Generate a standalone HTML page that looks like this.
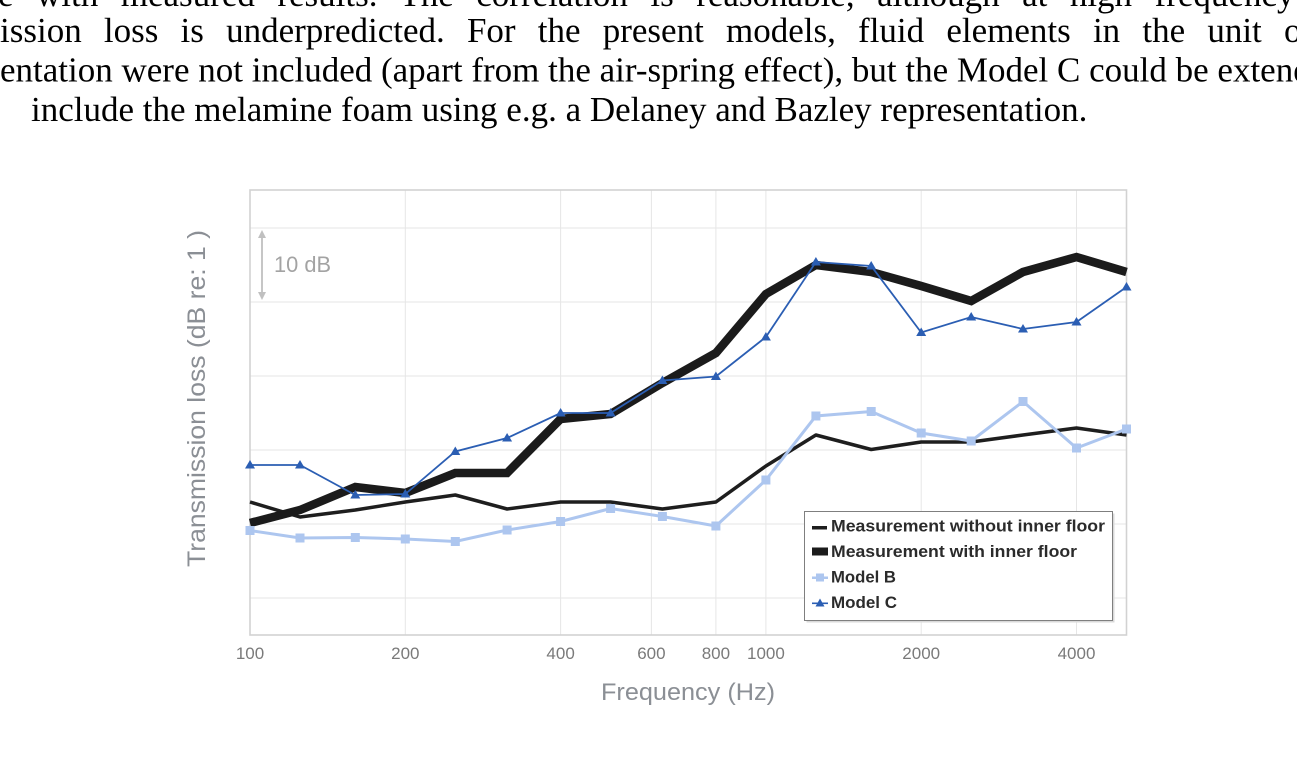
<!DOCTYPE html>
<html>
<head>
<meta charset="utf-8">
<style>
  html,body{margin:0;padding:0;background:#fff;}
  body{width:1297px;height:758px;overflow:hidden;position:relative;}
  svg{position:absolute;left:0;top:0;}
  .serif{font-family:"Liberation Serif","Times New Roman",serif;font-size:35px;fill:#000;}
  .sans{font-family:"Liberation Sans",Arial,sans-serif;}
</style>
</head>
<body>
<svg width="1297" height="758" viewBox="0 0 1297 758" xmlns="http://www.w3.org/2000/svg">
  <!-- paragraph text -->
  <text class="serif" x="-2" y="6" xml:space="preserve" style="word-spacing:13.75px">e with measured results. The correlation is reasonable, although at high frequency t</text>
  <text class="serif" x="0" y="42" xml:space="preserve" style="word-spacing:13.45px">ission loss is underpredicted. For the present models, fluid elements in the unit o</text>
  <text class="serif" x="0" y="81.5" xml:space="preserve">entation were not included (apart from the air-spring effect), but the Model C could be extend</text>
  <text class="serif" x="31" y="121" xml:space="preserve">include the melamine foam using e.g. a Delaney and Bazley representation.</text>

  <!-- gridlines -->
  <g stroke="#e6e6e6" stroke-width="1">
    <line x1="250" y1="228" x2="1126" y2="228"/>
    <line x1="250" y1="302" x2="1126" y2="302"/>
    <line x1="250" y1="376" x2="1126" y2="376"/>
    <line x1="250" y1="450" x2="1126" y2="450"/>
    <line x1="250" y1="524" x2="1126" y2="524"/>
    <line x1="250" y1="598" x2="1126" y2="598"/>
    <line x1="405.3" y1="190" x2="405.3" y2="635"/>
    <line x1="560.6" y1="190" x2="560.6" y2="635"/>
    <line x1="651.4" y1="190" x2="651.4" y2="635"/>
    <line x1="715.9" y1="190" x2="715.9" y2="635"/>
    <line x1="765.9" y1="190" x2="765.9" y2="635"/>
    <line x1="921.2" y1="190" x2="921.2" y2="635"/>
    <line x1="1076.5" y1="190" x2="1076.5" y2="635"/>
  </g>
  <!-- plot border -->
  <rect x="250" y="190" width="876.5" height="445" fill="none" stroke="#d2d2d2" stroke-width="1.6"/>

  <!-- 10 dB scale arrow -->
  <g stroke="#c0c0c0" fill="#c0c0c0">
    <line x1="262" y1="236" x2="262" y2="294" stroke-width="1.8"/>
    <polygon points="262,230 258,238 266,238" stroke="none"/>
    <polygon points="262,300 258,292 266,292" stroke="none"/>
  </g>
  <text class="sans" x="274" y="272" font-size="22" fill="#a3a3a3" textLength="57" lengthAdjust="spacingAndGlyphs">10 dB</text>

  <!-- series: measurement without inner floor -->
  <polyline fill="none" stroke="#1e1e1e" stroke-width="3.5" stroke-linejoin="round"
    points="250,502 300,517 355.3,510 405.3,502 455.3,495 507.1,509 560.6,502 610.6,502 662.4,509 715.9,502 765.9,466 815.9,435 871.2,449.5 921.2,442 971.2,442 1023,435 1076.5,428 1126.5,435"/>
  <!-- series: measurement with inner floor -->
  <polyline fill="none" stroke="#1b1b1b" stroke-width="8.5" stroke-linejoin="miter" stroke-miterlimit="4"
    points="250,523 300,510 355.3,487 405.3,493 455.3,473 507.1,473 560.6,419 610.6,414 662.4,383 715.9,353 765.9,294 815.9,265 871.2,272 921.2,286 971.2,301 1023,272 1076.5,257 1126.5,272"/>
  <!-- series: Model B -->
  <polyline fill="none" stroke="#adc6ef" stroke-width="3"
    points="250,530.5 300,538 355.3,537.5 405.3,539 455.3,541.5 507.1,530 560.6,521.5 610.6,508.5 662.4,516.5 715.9,526 765.9,480 815.9,416 871.2,411.5 921.2,433 971.2,441 1023,401.5 1076.5,448 1126.5,429"/>
  <g fill="#adc6ef">
    <rect x="245.5" y="526" width="9" height="9"/>
    <rect x="295.5" y="533.5" width="9" height="9"/>
    <rect x="350.8" y="533" width="9" height="9"/>
    <rect x="400.8" y="534.5" width="9" height="9"/>
    <rect x="450.8" y="537" width="9" height="9"/>
    <rect x="502.6" y="525.5" width="9" height="9"/>
    <rect x="556.1" y="517" width="9" height="9"/>
    <rect x="606.1" y="504" width="9" height="9"/>
    <rect x="657.9" y="512" width="9" height="9"/>
    <rect x="711.4" y="521.5" width="9" height="9"/>
    <rect x="761.4" y="475.5" width="9" height="9"/>
    <rect x="811.4" y="411.5" width="9" height="9"/>
    <rect x="866.7" y="407" width="9" height="9"/>
    <rect x="916.7" y="428.5" width="9" height="9"/>
    <rect x="966.7" y="436.5" width="9" height="9"/>
    <rect x="1018.5" y="397" width="9" height="9"/>
    <rect x="1072" y="443.5" width="9" height="9"/>
    <rect x="1122" y="424.5" width="9" height="9"/>
  </g>
  <!-- series: Model C -->
  <polyline fill="none" stroke="#2b5eb3" stroke-width="1.8"
    points="250,465 300,465 355.3,495 405.3,494 455.3,451.5 507.1,438 560.6,413 610.6,413 662.4,380.5 715.9,376.5 765.9,337 815.9,262 871.2,266 921.2,332.5 971.2,317 1023,329 1076.5,322 1126.5,287"/>
  <g fill="#2b5eb3">
    <polygon points="250,460 245,468.5 255,468.5"/>
    <polygon points="300,460 295,468.5 305,468.5"/>
    <polygon points="355.3,490 350.3,498.5 360.3,498.5"/>
    <polygon points="405.3,489 400.3,497.5 410.3,497.5"/>
    <polygon points="455.3,446.5 450.3,455 460.3,455"/>
    <polygon points="507.1,433 502.1,441.5 512.1,441.5"/>
    <polygon points="560.6,408 555.6,416.5 565.6,416.5"/>
    <polygon points="610.6,408 605.6,416.5 615.6,416.5"/>
    <polygon points="662.4,375.5 657.4,384 667.4,384"/>
    <polygon points="715.9,371.5 710.9,380 720.9,380"/>
    <polygon points="765.9,332 760.9,340.5 770.9,340.5"/>
    <polygon points="815.9,257 810.9,265.5 820.9,265.5"/>
    <polygon points="871.2,261 866.2,269.5 876.2,269.5"/>
    <polygon points="921.2,327.5 916.2,336 926.2,336"/>
    <polygon points="971.2,312 966.2,320.5 976.2,320.5"/>
    <polygon points="1023,324 1018,332.5 1028,332.5"/>
    <polygon points="1076.5,317 1071.5,325.5 1081.5,325.5"/>
    <polygon points="1126.5,282 1121.5,290.5 1131.5,290.5"/>
  </g>

  <!-- legend -->
  <rect x="806.5" y="513.5" width="308" height="109" fill="#d9d9d9"/>
  <rect x="804.5" y="511.5" width="308" height="109" fill="#fff" stroke="#7f7f7f" stroke-width="1"/>
  <rect x="812" y="526" width="15" height="3.5" fill="#1e1e1e"/>
  <rect x="812" y="547.5" width="16" height="8" fill="#1b1b1b"/>
  <rect x="812" y="576.5" width="16" height="2.5" fill="#adc6ef"/>
  <rect x="816" y="573.5" width="8" height="8" fill="#adc6ef"/>
  <rect x="812" y="602.5" width="16" height="1.6" fill="#2b5eb3"/>
  <polygon points="820,598.5 815.5,606.5 824.5,606.5" fill="#2b5eb3"/>
  <g class="sans" font-weight="bold" font-size="16.5" fill="#2b2b2b">
    <text x="831" y="531.5" textLength="274" lengthAdjust="spacingAndGlyphs">Measurement without inner floor</text>
    <text x="831" y="557" textLength="246" lengthAdjust="spacingAndGlyphs">Measurement with inner floor</text>
    <text x="831" y="582.5" textLength="65" lengthAdjust="spacingAndGlyphs">Model B</text>
    <text x="831" y="608" textLength="66" lengthAdjust="spacingAndGlyphs">Model C</text>
  </g>

  <!-- x tick labels -->
  <g class="sans" font-size="17" fill="#7a7a7a" text-anchor="middle">
    <text x="250" y="659">100</text>
    <text x="405.3" y="659">200</text>
    <text x="560.6" y="659">400</text>
    <text x="651.4" y="659">600</text>
    <text x="715.9" y="659">800</text>
    <text x="765.9" y="659">1000</text>
    <text x="921.2" y="659">2000</text>
    <text x="1076.5" y="659">4000</text>
  </g>

  <!-- axis titles -->
  <text class="sans" x="601" y="700" font-size="24" fill="#8b8f95" textLength="174" lengthAdjust="spacingAndGlyphs">Frequency (Hz)</text>
  <text class="sans" transform="translate(205,567) rotate(-90)" x="0" y="0" font-size="25" fill="#8b8f95" textLength="337" lengthAdjust="spacingAndGlyphs">Transmission loss (dB re: 1 )</text>
</svg>
</body>
</html>
